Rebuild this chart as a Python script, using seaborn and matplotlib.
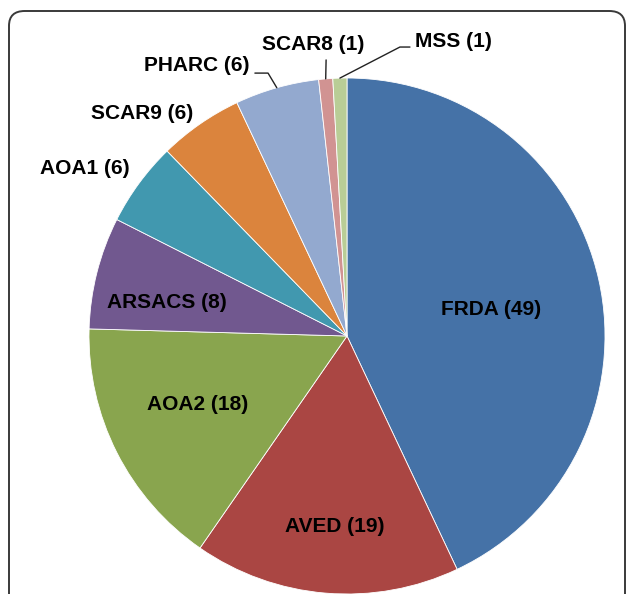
import numpy as np
import seaborn as sns
import matplotlib.pyplot as plt
from matplotlib.patches import FancyBboxPatch

# data
diseases = ['FRDA', 'AVED', 'AOA2', 'ARSACS', 'AOA1', 'SCAR9', 'PHARC', 'SCAR8', 'MSS']
counts = [49, 19, 18, 8, 6, 6, 6, 1, 1]
colors = ['#4572A7', '#AA4643', '#89A54E', '#71588F', '#4198AF',
          '#DB843D', '#93A9CF', '#D19392', '#B9CD96']

# label layout (pie radius units, centre at 0,0)
label_pos = [(0.558, 0.101), (-0.047, -0.74), (-0.579, -0.267), (-0.698, 0.128),
             (-1.016, 0.651), (-0.795, 0.864), (-0.581, 1.050), (-0.132, 1.128),
             (0.411, 1.140)]
# leader lines: (elbow, end near text) or None
leaders = [None, None, None, None, None, None,
           [(-0.306, 1.019), (-0.357, 1.019)],
           [(-0.081, 1.07)],
           [(0.205, 1.120), (0.244, 1.120)]]

sns.set_theme(style="white")
plt.rcParams['font.family'] = ['Liberation Sans', 'DejaVu Sans']

fig = plt.figure(figsize=(6.29, 5.94), dpi=100)
fig.patch.set_facecolor('white')

# outer rounded frame
frame = FancyBboxPatch((9 / 629, -0.1), 616 / 629, 0.1 + (594 - 11) / 594,
                       boxstyle="round,pad=0,rounding_size=0.025",
                       transform=fig.transFigure, facecolor='none',
                       edgecolor='#3a3a3a', linewidth=1.4, zorder=0)
fig.patches.append(frame)

ax = fig.add_axes([(347 - 258) / 629, (594 - 336 - 258) / 594, 516 / 629, 516 / 594])
wedges, _ = ax.pie(counts, colors=colors, startangle=90, counterclock=False,
                   radius=1.0, wedgeprops=dict(edgecolor='white', linewidth=0.6))
ax.set_xlim(-1, 1)
ax.set_ylim(-1, 1)
ax.set_aspect('equal')
ax.axis('off')

for w, name, n, pos, ld in zip(wedges, diseases, counts, label_pos, leaders):
    ax.text(pos[0], pos[1], f'{name} ({n})', ha='center', va='center',
            fontsize=15, fontweight='bold', color='black', clip_on=False)
    if ld is not None:
        mid = np.deg2rad((w.theta1 + w.theta2) / 2)
        pts = [(np.cos(mid), np.sin(mid))] + ld
        xs, ys = zip(*pts)
        ax.plot(xs, ys, color='#222222', lw=1.0, clip_on=False)

plt.savefig('out.png', dpi=100, facecolor='white')
